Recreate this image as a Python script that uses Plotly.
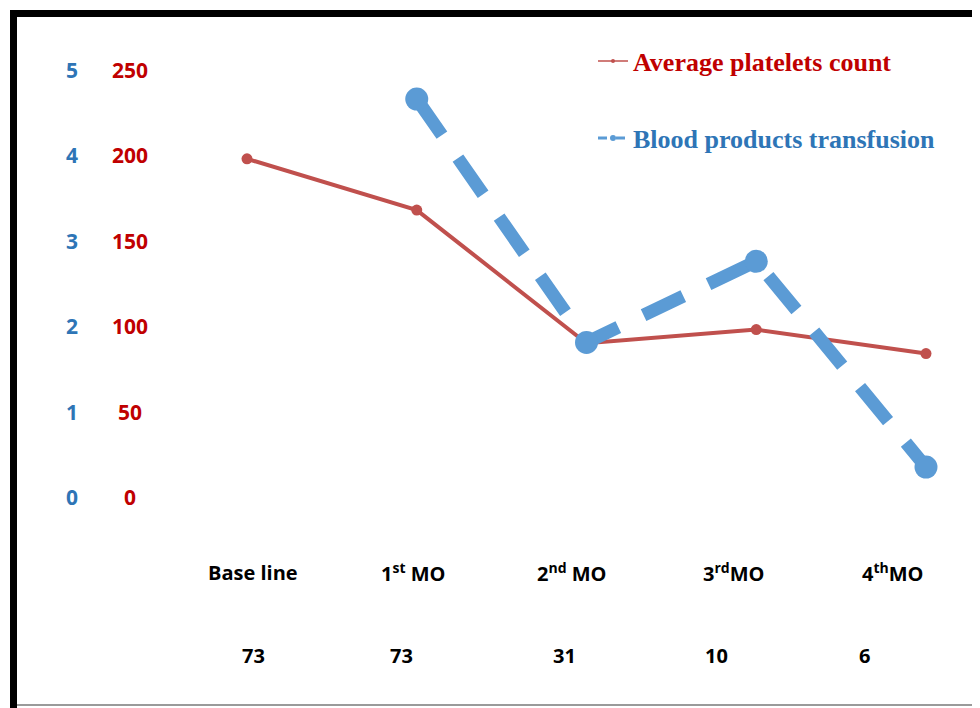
import plotly.graph_objects as go

# ---- data ----
categories = ["Base line", "1<sup>st</sup> MO", "2<sup>nd</sup> MO", "3<sup>rd</sup>MO", "4<sup>th</sup>MO"]
counts = ["73", "73", "31", "10", "6"]
platelets = [198, 168, 90, 98, 84]
transfusion = [None, 4.66, 1.81, 2.76, 0.35]
red_ticks = [0, 50, 100, 150, 200, 250]
blue_ticks = [0, 1, 2, 3, 4, 5]

RED_LINE = "#C0504D"
BLUE_LINE = "#5B9BD5"
RED_TXT = "#C00000"
BLUE_TXT = "#2E75B6"
W, H = 980, 708
OFF = 8  # page body margin


def px(xs):
    return (xs - OFF) / W


def py(ys):
    return 1 - (ys - OFF) / H


# axis geometry (screen pixels): category 0 at 247, step 169.75; value 0 at 497, top tick at 70
X0, XSTEP = 247, 169.75
Y0, YTOP = 497, 70
red_ppu = (Y0 - YTOP) / 250
blue_ppu = (Y0 - YTOP) / 5

xrange = [(OFF - X0) / XSTEP, (OFF + W - X0) / XSTEP]
yrange = [(Y0 - OFF - H) / red_ppu, (Y0 - OFF) / red_ppu]
y2range = [(Y0 - OFF - H) / blue_ppu, (Y0 - OFF) / blue_ppu]

x = list(range(len(categories)))

fig = go.Figure()

fig.add_trace(go.Scatter(
    x=x, y=transfusion, yaxis="y2", mode="lines+markers",
    line=dict(color=BLUE_LINE, width=13, dash="44px,28px"),
    marker=dict(color=BLUE_LINE, size=23), showlegend=False, cliponaxis=False))
fig.add_trace(go.Scatter(
    x=x, y=platelets, mode="lines+markers",
    line=dict(color=RED_LINE, width=4),
    marker=dict(color=RED_LINE, size=11), showlegend=False, cliponaxis=False))

# legend entries
fig.add_trace(go.Scatter(
    x=[None], y=[None], mode="lines+markers", name="Average platelets count",
    line=dict(color=RED_LINE, width=1.5), marker=dict(color=RED_LINE, size=4),
    legend="legend"))
fig.add_trace(go.Scatter(
    x=[None], y=[None], mode="lines+markers", name="Blood products transfusion",
    line=dict(color=BLUE_LINE, width=3, dash="dash"), marker=dict(color=BLUE_LINE, size=6),
    legend="legend2"))

annotations = []
tick_font = dict(family="Open Sans", size=21, weight="bold")
for v in red_ticks:
    annotations.append(dict(x=px(130), xref="paper", y=v, yref="y", text=str(v),
                            showarrow=False, xanchor="center", yanchor="middle",
                            font=dict(color=RED_TXT, **tick_font)))
for v in blue_ticks:
    annotations.append(dict(x=px(72), xref="paper", y=v, yref="y2", text=str(v),
                            showarrow=False, xanchor="center", yanchor="middle",
                            font=dict(color=BLUE_TXT, **tick_font)))

label_shift = [6, -4, -15, -23, -33]
count_shift = [6, -15, -22, -40, -62]
lab_font = dict(family="Open Sans", size=20, weight="bold", color="black")
for i, (c, n) in enumerate(zip(categories, counts)):
    annotations.append(dict(x=i, y=0, xref="x", yref="y", text=c, showarrow=False,
                            xshift=label_shift[i], yshift=-75, font=lab_font))
    annotations.append(dict(x=i, y=0, xref="x", yref="y", text=n, showarrow=False,
                            xshift=count_shift[i], yshift=-158, font=lab_font))

shapes = [
    dict(type="line", xref="paper", yref="paper", x0=px(10), x1=px(990), y0=py(13.5), y1=py(13.5),
         line=dict(color="black", width=7)),
    dict(type="line", xref="paper", yref="paper", x0=px(13.5), x1=px(13.5), y0=py(10), y1=py(720),
         line=dict(color="black", width=7)),
    dict(type="line", xref="paper", yref="paper", x0=px(17), x1=px(990), y0=py(705), y1=py(705),
         line=dict(color="#9a9a9a", width=2)),
]

fig.update_layout(
    width=W, height=H,
    margin=dict(l=0, r=0, t=0, b=0),
    paper_bgcolor="white", plot_bgcolor="white",
    xaxis=dict(range=xrange, visible=False),
    yaxis=dict(range=yrange, visible=False),
    yaxis2=dict(range=y2range, visible=False, overlaying="y"),
    legend=dict(x=px(593), y=py(61), xanchor="left", yanchor="middle",
                font=dict(family="Liberation Serif", size=26, weight="bold", color=RED_TXT),
                bgcolor="rgba(0,0,0,0)"),
    legend2=dict(x=px(593), y=py(138), xanchor="left", yanchor="middle",
                 font=dict(family="Liberation Serif", size=26, weight="bold", color=BLUE_TXT),
                 bgcolor="rgba(0,0,0,0)"),
    annotations=annotations,
    shapes=shapes,
)

fig.write_html("out.html")
